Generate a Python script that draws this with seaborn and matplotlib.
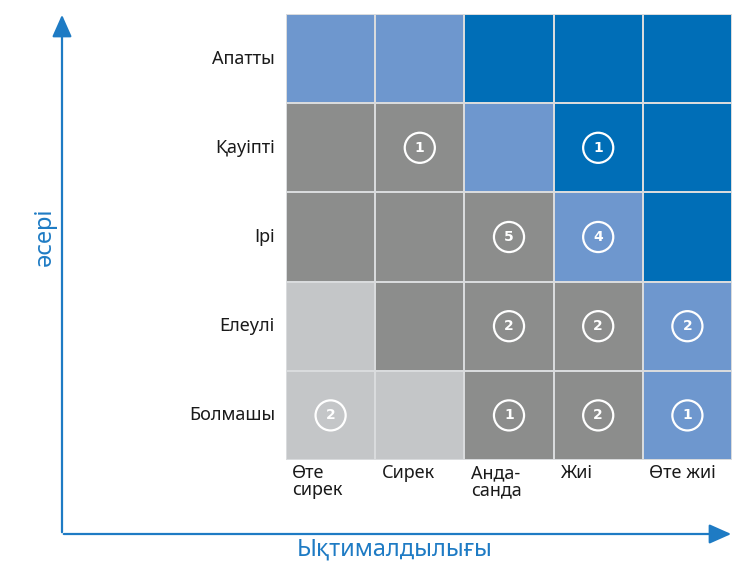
import numpy as np
import pandas as pd
import matplotlib
matplotlib.use("Agg")
import matplotlib.pyplot as plt
from matplotlib.colors import ListedColormap
from matplotlib.patches import FancyArrowPatch
import seaborn as sns

# Impact levels (top to bottom) and likelihood levels (left to right)
impact = ["Апатты", "Қауіпті", "Ірі", "Елеулі", "Болмашы"]
likelihood = ["Өте\nсирек", "Сирек", "Анда-\nсанда", "Жиі", "Өте жиі"]

# Risk zone per cell: 0 = low, 1 = moderate, 2 = high, 3 = critical
zones = [
    [2, 2, 3, 3, 3],
    [1, 1, 2, 3, 3],
    [1, 1, 1, 2, 3],
    [0, 1, 1, 1, 2],
    [0, 0, 1, 1, 2],
]

# Number of risks found in each cell (0 = none)
counts = [
    [0, 0, 0, 0, 0],
    [0, 1, 0, 1, 0],
    [0, 0, 5, 4, 0],
    [0, 0, 2, 2, 2],
    [2, 0, 1, 2, 1],
]

zone_colors = ["#C4C6C8", "#8C8D8C", "#6E97CE", "#006EB7"]
blue = "#1E7BC4"

sns.set_style("white")
plt.rcParams["font.family"] = ["Noto Sans", "DejaVu Sans"]

df = pd.DataFrame(zones, index=impact, columns=likelihood)

fig = plt.figure(figsize=(7.43, 5.61), dpi=100)
ax = fig.add_axes([286 / 743, 101 / 561, 446 / 743, 446 / 561])

sns.heatmap(df, ax=ax, cmap=ListedColormap(zone_colors), vmin=-0.5, vmax=3.5,
            cbar=False, linewidths=1.2, linecolor="#D9DBDD", square=False)

# Circled counts
for r, row in enumerate(counts):
    for c, n in enumerate(row):
        if n:
            ax.scatter(c + 0.5, r + 0.5, s=470, facecolors="none",
                       edgecolors="white", linewidths=1.6, zorder=3)
            ax.text(c + 0.5, r + 0.5, str(n), ha="center", va="center",
                    color="white", fontsize=10, fontweight="bold", zorder=4,
                    family=["DejaVu Sans"])

# Tick labels
ax.tick_params(axis="both", length=0)
ax.set_yticks(np.arange(len(impact)) + 0.5)
ax.set_yticklabels(impact, rotation=0, fontsize=13, color="#1a1a1a")
ax.tick_params(axis="y", pad=8)
ax.set_xticks([])
for c, lab in enumerate(likelihood):
    ax.text(c + 0.07, 5.05, lab, ha="left", va="top", fontsize=13,
            color="#1a1a1a", linespacing=0.9)
ax.set_xlabel("")
ax.set_ylabel("")

# Axis arrows
fig.add_artist(FancyArrowPatch(
    (62 / 743, 1 - 535 / 561), (62 / 743, 1 - 12 / 561),
    transform=fig.transFigure, arrowstyle="-|>,head_length=9,head_width=4",
    color=blue, lw=1.6, mutation_scale=1.5))
fig.add_artist(FancyArrowPatch(
    (61 / 743, 1 - 534 / 561), (734 / 743, 1 - 534 / 561),
    transform=fig.transFigure, arrowstyle="-|>,head_length=9,head_width=4",
    color=blue, lw=1.6, mutation_scale=1.5))

fig.text(45 / 743, 1 - 237 / 561, "әсері", rotation=90, ha="center", va="center",
         fontsize=17, color=blue)
fig.text(395 / 743, 1 - 550 / 561, "Ықтималдылығы", ha="center", va="center",
         fontsize=17, color=blue)

fig.savefig("out.png", dpi=100, facecolor="white")
